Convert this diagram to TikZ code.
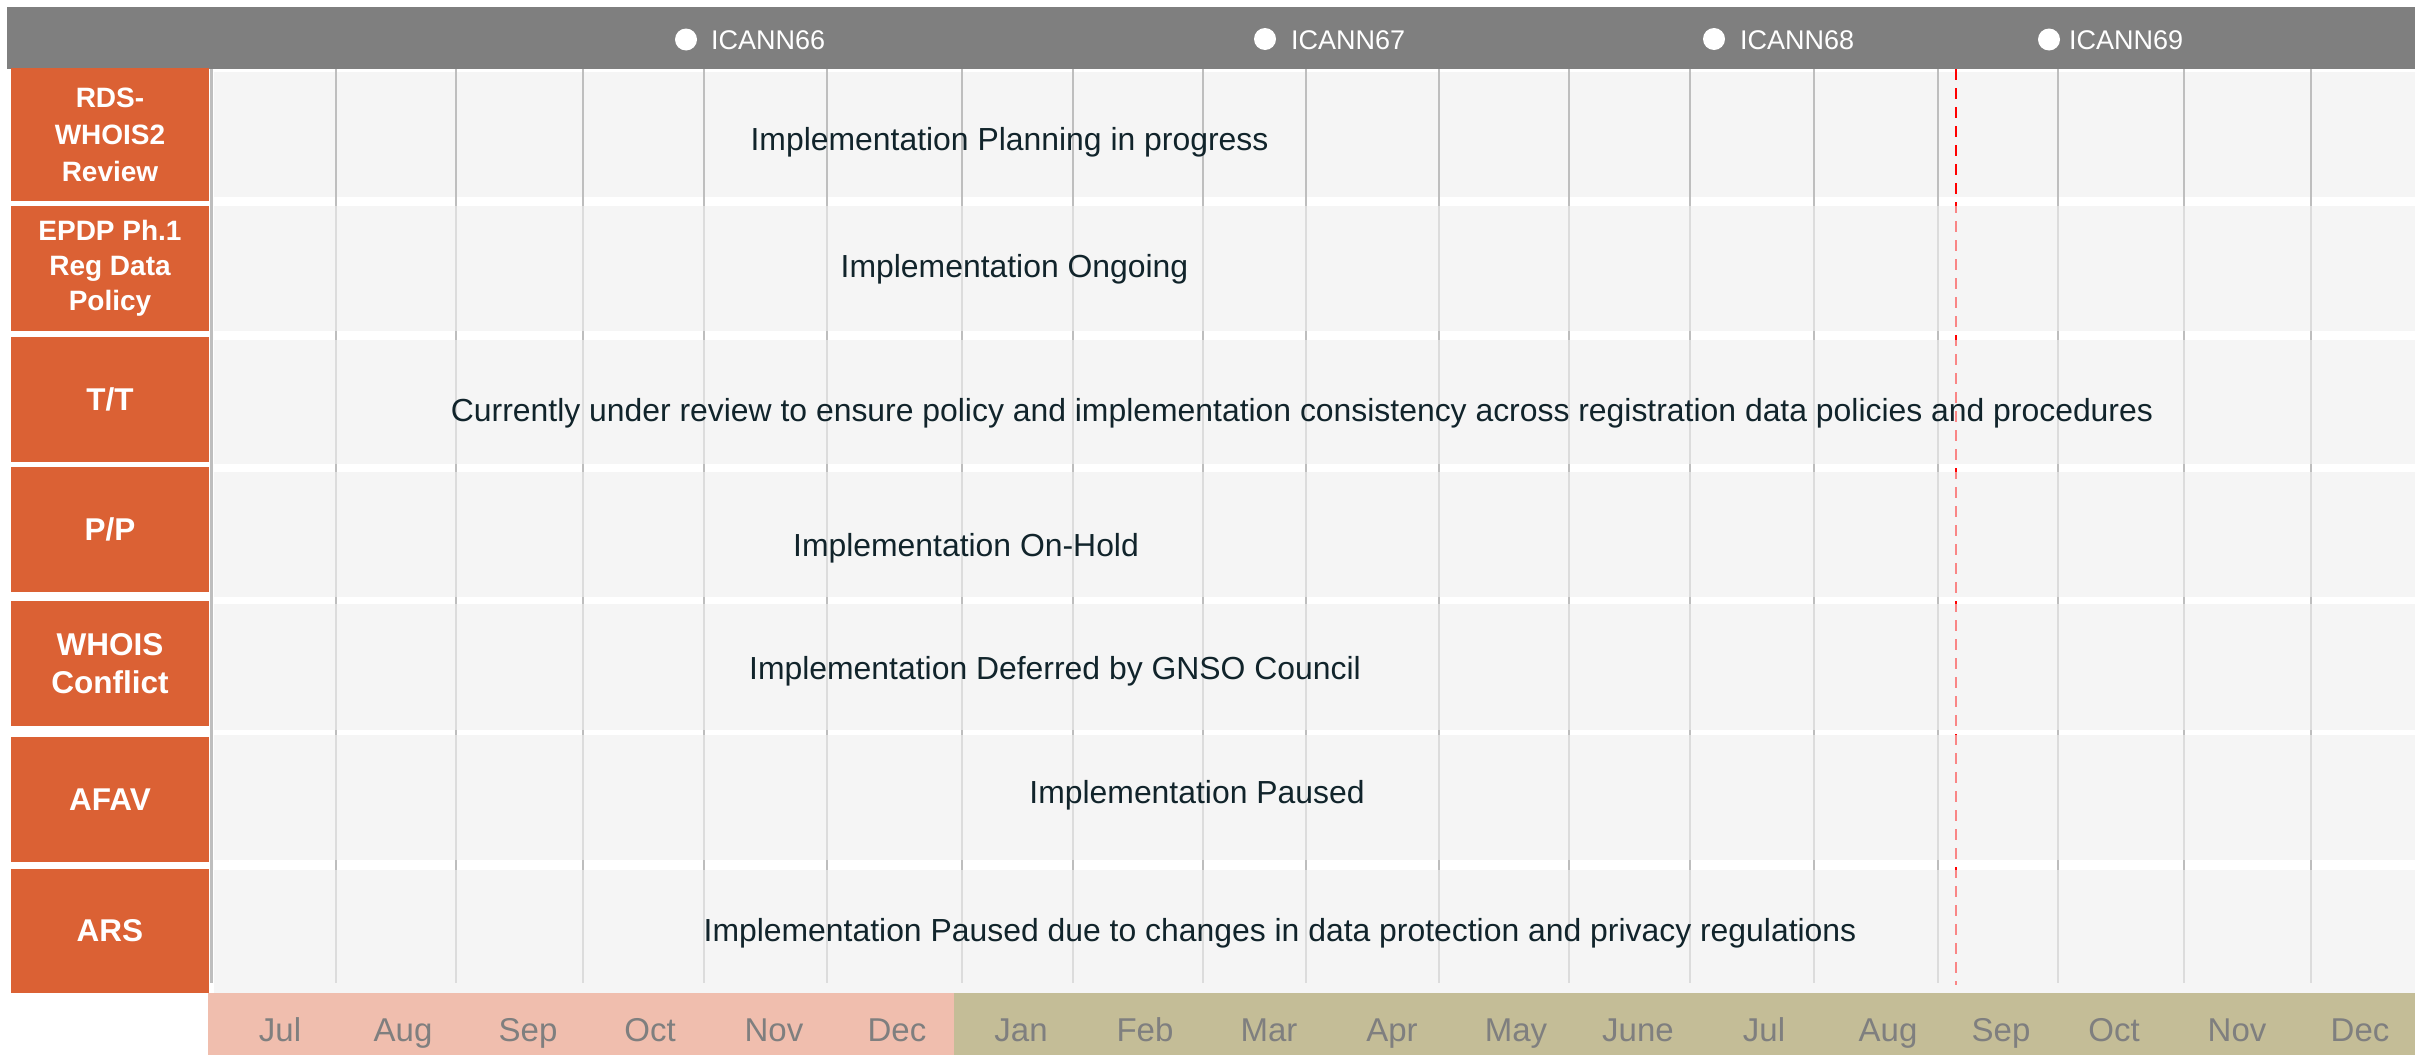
\documentclass[tikz,border=0pt]{standalone}
\usepackage{fontspec}
\setmainfont{Liberation Sans}
\definecolor{orng}{RGB}{219,97,52}
\definecolor{barg}{RGB}{127,127,127}
\definecolor{band}{RGB}{245,245,245}
\definecolor{gline}{RGB}{190,190,190}
\definecolor{txtd}{RGB}{17,36,43}
\definecolor{pinkm}{RGB}{240,190,174}
\definecolor{tanm}{RGB}{196,189,151}
\definecolor{mtxt}{RGB}{127,127,127}
\begin{document}
\begin{tikzpicture}[x=1pt,y=-1pt,
  lab/.style={fill=orng,text=white,align=center,inner sep=0pt,minimum width=198pt},
  rowtxt/.style={text=txtd,inner sep=0pt,anchor=base,font=\fontsize{31.9}{38}\selectfont},
  mon/.style={text=mtxt,inner sep=0pt,anchor=base,font=\fontsize{33}{40}\selectfont},
  icann/.style={text=white,inner sep=0pt,anchor=base west,font=\fontsize{27}{32}\selectfont},
  dot/.style={circle,fill=white,inner sep=0pt,minimum width=21pt,minimum height=22pt},
  gridl/.style={draw=gline,line width=2.2pt},
  todayl/.style={draw=red,line width=2.8pt,dash pattern=on 11pt off 8pt}]
\useasboundingbox (0,0) rectangle (2415,1055);
% top bar
\fill[barg] (7,7) rectangle (2415,69);
% row bands
\foreach \a/\b in {72/197,206/331,340/464,472/597,604/730,735/860,870/993}
  \fill[band] (214,\a) rectangle (2415,\b);
% grid lines
\foreach \x in {336,456,583,704,827,962,1073,1203,1306,1439,1569,1690,1814,1938,2058,2184,2311}
  \draw[gridl] (\x,69) -- (\x,983);
\draw[gridl,line width=3pt] (211,69) -- (211,983);
\draw[todayl] (1956,69) -- (1956,985);
% translucent overlay for rows 2-7
\foreach \a/\b in {206/331,340/464,472/597,604/730,735/860,870/993}
  \fill[band,fill opacity=0.55] (214,\a) rectangle (2415,\b);
% left labels
\node[lab,minimum height=133pt,font=\bfseries\fontsize{28}{37}\selectfont] (l1) at (110,134.5) {RDS-\\WHOIS2\\Review};
\node[lab,minimum height=125pt,font=\bfseries\fontsize{28}{35}\selectfont] (l2) at (110,268.5) {EPDP Ph.1\\Reg Data\\Policy};
\node[lab,minimum height=125pt,font=\bfseries\fontsize{31.5}{38}\selectfont] (l3) at (110,399.5) {T/T};
\node[lab,minimum height=125pt,font=\bfseries\fontsize{31.5}{38}\selectfont] (l4) at (110,529.5) {P/P};
\node[lab,minimum height=125pt,font=\bfseries\fontsize{31.5}{38}\selectfont] (l5) at (110,663.5) {WHOIS\\Conflict};
\node[lab,minimum height=125pt,font=\bfseries\fontsize{31.5}{38}\selectfont] (l6) at (110,799.5) {AFAV};
\node[lab,minimum height=124pt,font=\bfseries\fontsize{31.5}{38}\selectfont] (l7) at (110,931) {ARS};
% row texts
\node[rowtxt] (t1) at (1009.5,150) {Implementation Planning in progress};
\node[rowtxt] (t2) at (1014.5,277) {Implementation Ongoing};
\node[rowtxt] (t3) at (1302,421) {Currently under review to ensure policy and implementation consistency across registration data policies and procedures};
\node[rowtxt] (t4) at (966,556.5) {Implementation On-Hold};
\node[rowtxt] (t5) at (1055,679.5) {Implementation Deferred by GNSO Council};
\node[rowtxt] (t6) at (1197,803.5) {Implementation Paused};
\node[rowtxt] (t7) at (1280,941) {Implementation Paused due to changes in data protection and privacy regulations};
% month bar
\fill[pinkm] (208,993) rectangle (954,1055);
\fill[tanm] (954,993) rectangle (2415,1055);
\foreach \x/\m [count=\i] in {280/Jul,403/Aug,528/Sep,650/Oct,774/Nov,897/Dec,1021/Jan,1145/Feb,1269/Mar,1392/Apr,1516/May,1638/June,1764/Jul,1888/Aug,2001/Sep,2114/Oct,2237/Nov,2360/Dec}
  \node[mon] (m\i) at (\x,1041) {\m};
% ICANN markers
\node[dot] (d66) at (686,39.5) {};
\node[icann] (i66) at (711,49) {ICANN66};
\node[dot] (d67) at (1265,39) {};
\node[icann] (i67) at (1291,49) {ICANN67};
\node[dot] (d68) at (1714,39) {};
\node[icann] (i68) at (1740,49) {ICANN68};
\node[dot] (d69) at (2049,39.5) {};
\node[icann] (i69) at (2069,49) {ICANN69};
\end{tikzpicture}
\end{document}
